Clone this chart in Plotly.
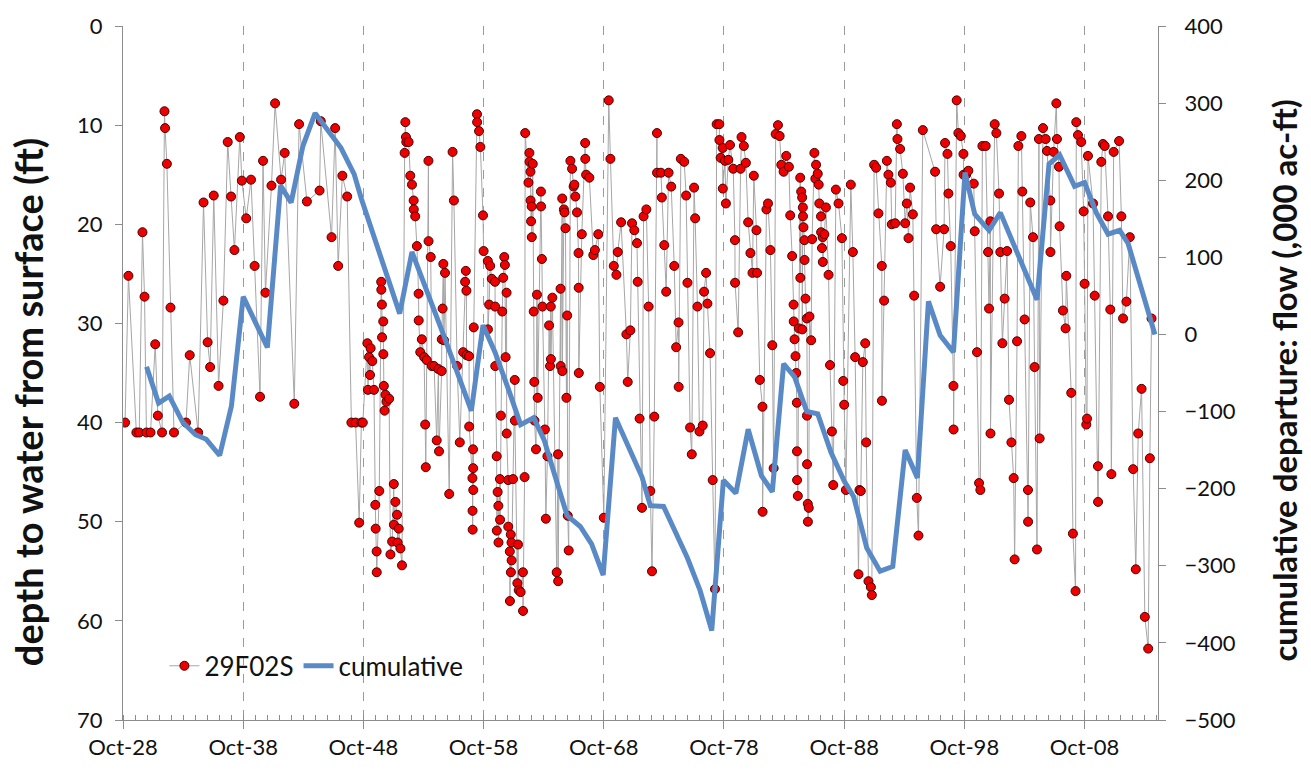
import plotly.graph_objects as go
from datetime import datetime

# ---------------- data ----------------
# well 29F02S : decimal year of measurement and depth to water (ft)
well_year = [
    1928.92, 1929.2, 1929.86, 1930.1, 1930.37, 1930.54, 1930.7, 1931.04, 1931.43, 1931.65,
    1932.0, 1932.2, 1932.25, 1932.4, 1932.7, 1932.99, 1933.99, 1934.3, 1935.0, 1935.45,
    1935.79, 1936.0, 1936.3, 1936.7, 1937.1, 1937.46, 1937.74, 1938.02, 1938.47, 1938.64,
    1939.0, 1939.4, 1939.7, 1940.15, 1940.4, 1940.6, 1941.1, 1941.4, 1941.9, 1942.2,
    1943.0, 1943.4, 1944.05, 1945.1, 1945.2, 1946.1, 1946.4, 1946.65, 1947.0, 1947.4,
    1947.75, 1948.1, 1948.4, 1948.58, 1948.7,
    1949.08, 1949.13, 1949.22, 1949.3, 1949.35, 1949.49, 1949.63, 1949.74, 1949.77, 1949.85,
    1949.86, 1950.07, 1950.23, 1950.24, 1950.29, 1950.3, 1950.4, 1950.41, 1950.45, 1950.51,
    1950.59, 1950.67, 1950.89, 1951.0, 1951.14, 1951.28, 1951.29, 1951.41, 1951.55, 1951.6,
    1951.69, 1951.83, 1951.96, 1952.18, 1952.24, 1952.29, 1952.32, 1952.51, 1952.65, 1952.79,
    1952.93, 1952.94, 1953.06, 1953.2, 1953.34, 1953.35, 1953.48, 1953.61, 1953.8, 1953.89,
    1953.94, 1954.02, 1954.16, 1954.17, 1954.35, 1954.44, 1954.63, 1954.85, 1954.99, 1955.04,
    1955.26, 1955.27, 1955.34, 1955.4, 1955.45, 1955.54, 1955.89, 1956.17, 1956.28, 1956.55,
    1956.77, 1957.05, 1957.21, 1957.27, 1957.32, 1957.33, 1957.54, 1957.55, 1957.82, 1957.83,
    1957.84, 1957.87, 1957.88, 1957.89, 1957.93, 1958.2, 1958.21, 1958.37, 1958.48, 1958.7,
    1958.75,
    1959.1, 1959.11, 1959.21, 1959.3, 1959.43, 1959.7, 1959.71, 1959.72, 1959.84, 1959.85,
    1959.92, 1959.98, 1959.99, 1960.11, 1960.12, 1960.19, 1960.3, 1960.38, 1960.47, 1960.52,
    1960.58, 1960.66, 1960.67, 1960.79, 1960.8, 1960.93, 1960.94, 1961.01, 1961.02, 1961.07,
    1961.08, 1961.2, 1961.34, 1961.35, 1961.56, 1961.61, 1961.67, 1961.83, 1962.02, 1962.03,
    1962.16, 1962.21, 1962.48, 1962.56, 1962.57, 1962.65, 1962.66, 1962.7, 1962.75, 1962.76,
    1962.84, 1962.92, 1962.97, 1962.98, 1963.11, 1963.19, 1963.25, 1963.52, 1963.53, 1963.6,
    1963.65, 1963.85, 1963.93, 1964.06, 1964.2, 1964.28, 1964.34, 1964.35, 1964.47, 1964.83,
    1964.94, 1964.95, 1965.15, 1965.16, 1965.29, 1965.3, 1965.43, 1965.48, 1965.56, 1965.64,
    1965.7, 1965.75, 1965.83, 1965.97, 1966.11, 1966.24, 1966.3, 1966.38, 1966.52, 1966.65,
    1966.66, 1966.67, 1966.92, 1967.2, 1967.21, 1967.28, 1967.55, 1967.88, 1968.01, 1968.29,
    1968.42, 1968.75,
    1969.16, 1969.3, 1969.58, 1969.8, 1969.91, 1970.19, 1970.63, 1970.74, 1970.96, 1971.1,
    1971.29, 1971.51, 1971.57, 1971.73, 1971.93, 1972.06, 1972.29, 1972.48, 1972.62, 1972.76,
    1972.95, 1973.17, 1973.18, 1973.5, 1973.58, 1973.78, 1973.94, 1974.14, 1974.36, 1974.61,
    1974.77, 1974.97, 1974.98, 1975.16, 1975.44, 1975.6, 1975.71, 1975.93, 1976.07, 1976.26,
    1976.35, 1976.54, 1976.71, 1976.98, 1977.09, 1977.26, 1977.37, 1977.59, 1977.81, 1978.0,
    1978.14, 1978.36, 1978.37, 1978.47, 1978.64, 1978.65, 1978.83, 1978.91,
    1979.11, 1979.25, 1979.52, 1979.66, 1979.67, 1979.93, 1980.13, 1980.21, 1980.4, 1980.57,
    1980.76, 1980.95, 1981.12, 1981.23, 1981.45, 1981.5, 1981.73, 1981.95, 1981.96, 1982.28,
    1982.41, 1982.61, 1982.77, 1982.88, 1983.05, 1983.24, 1983.38, 1983.52, 1983.71, 1983.93,
    1984.15, 1984.26, 1984.42, 1984.54, 1984.55, 1984.62, 1984.7, 1984.76, 1984.81, 1984.82,
    1984.83, 1984.89, 1984.98, 1985.09, 1985.1, 1985.17, 1985.25, 1985.26, 1985.31, 1985.32,
    1985.36, 1985.44, 1985.45, 1985.53, 1985.64, 1985.65, 1985.66, 1985.72, 1985.73, 1985.8,
    1985.86, 1986.0, 1986.08, 1986.27, 1986.35, 1986.41, 1986.55, 1986.63, 1986.68, 1986.82,
    1986.83, 1986.9, 1986.96, 1986.97, 1987.1, 1987.23, 1987.45, 1987.57, 1987.73, 1987.84,
    1988.06, 1988.28, 1988.56, 1988.67, 1988.75, 1988.89,
    1989.3, 1989.47, 1989.66, 1989.94, 1990.02, 1990.13, 1990.3, 1990.5, 1990.58, 1990.77,
    1990.97, 1991.05, 1991.24, 1991.41, 1991.6, 1991.88, 1991.89, 1992.07, 1992.3, 1992.43,
    1992.63, 1992.71, 1992.99, 1993.13, 1993.18, 1993.4, 1993.63, 1993.82, 1993.96, 1994.1,
    1994.23, 1994.46, 1994.57, 1994.79, 1994.93, 1995.29, 1996.31, 1996.4, 1996.73, 1997.06,
    1997.14, 1997.34, 1997.42, 1997.61, 1997.84, 1997.85, 1998.11, 1998.25, 1998.45, 1998.67,
    1998.68, 1998.89, 1999.08,
    1999.53, 1999.61, 1999.8, 1999.97, 2000.08, 2000.25, 2000.52, 2000.72, 2000.8, 2000.91,
    2000.92, 2001.27, 2001.41, 2001.63, 2001.74, 2001.91, 2002.1, 2002.3, 2002.46, 2002.66,
    2002.85, 2002.93, 2003.13, 2003.24, 2003.49, 2003.57, 2003.76, 2004.04, 2004.05, 2004.23,
    2004.46, 2004.59, 2004.79, 2004.95, 2005.01, 2005.29, 2005.51, 2005.62, 2005.9, 2005.91,
    2006.17, 2006.4, 2006.45, 2006.62, 2006.67, 2006.95, 2007.17, 2007.23, 2007.64, 2007.78,
    2008.0, 2008.06, 2008.2, 2008.47, 2008.67, 2008.75, 2008.89, 2008.95, 2009.03,
    2009.45, 2009.59, 2009.86, 2009.87, 2010.14, 2010.28, 2010.42, 2010.7, 2010.89, 2010.98,
    2011.17, 2011.62, 2011.81, 2011.95, 2012.23, 2012.51, 2012.79, 2013.01, 2013.21, 2013.49,
    2013.76, 2014.04, 2014.18, 2014.32,
]
well_depth = [
    40.0, 25.2, 41.0, 41.0, 20.8, 27.3, 41.0, 41.0, 32.1, 39.3,
    41.0, 8.6, 10.3, 13.9, 28.4, 41.0, 40.0, 33.2, 41.0, 17.8,
    31.9, 34.4, 17.1, 36.3, 27.7, 11.7, 17.2, 22.6, 11.2, 15.6,
    19.4, 15.5, 24.2, 37.4, 13.6, 26.9, 16.1, 7.8, 15.5, 12.8,
    38.1, 9.9, 17.7, 16.6, 9.6, 21.3, 10.3, 24.2, 15.1, 17.2,
    40.0, 40.0, 50.1, 40.0, 40.0,
    32.0, 36.7, 33.4, 35.2, 32.5, 33.8, 36.7, 48.3, 50.7, 53.0,
    55.1, 46.9, 25.8, 26.6, 28.1, 31.4, 29.8, 33.1, 36.3, 38.8,
    37.2, 37.9, 37.6, 53.3, 52.0, 46.2, 50.3, 48.0, 49.3, 52.1,
    50.7, 52.7, 54.4, 12.8, 9.7, 11.2, 11.7, 11.7, 15.1, 16.0,
    17.6, 18.5, 19.2, 22.2, 27.0, 29.7, 32.9, 31.6, 33.4, 40.2,
    44.5, 33.7, 13.6, 21.7, 23.3, 34.3, 34.3, 41.8, 34.6, 42.9,
    34.8, 31.6, 28.5, 24.0, 31.7, 24.9, 47.2, 12.7, 17.6, 34.3,
    42.0, 32.9, 25.8, 24.7, 26.7, 33.2, 33.3, 40.4, 45.6, 48.9,
    50.8, 42.7, 44.6, 46.8, 30.4, 8.9, 9.7, 10.6, 12.2, 19.1,
    22.7,
    23.7, 30.6, 28.1, 24.2, 25.5, 25.8, 28.3, 34.3, 43.4, 50.9,
    47.0, 48.4, 52.1, 45.7, 49.8, 39.3, 28.8, 25.4, 23.3, 24.1,
    33.4, 26.9, 41.1, 45.8, 50.5, 53.0, 58.0, 51.3, 55.1, 52.1,
    53.9, 45.7, 35.7, 39.8, 56.2, 52.3, 56.9, 57.1, 55.1, 59.0,
    45.5, 10.8, 15.8, 12.8, 13.7, 14.7, 17.6, 19.7, 18.2, 21.3,
    13.9, 28.8, 35.9, 39.8, 42.7, 27.1, 37.5, 16.7, 18.2, 23.5,
    28.3, 40.7, 49.7, 43.4, 30.2, 34.3, 28.3, 33.6, 27.4, 55.1,
    43.2, 56.0, 26.5, 34.3, 17.4, 34.8, 18.5, 18.8, 20.4, 37.5,
    29.2, 49.4, 52.9, 13.6, 14.4, 16.2, 16.0, 17.2, 18.8, 22.9,
    26.4, 35.0, 21.0, 11.8, 13.4, 15.0, 15.3, 23.1, 22.6, 21.0,
    36.4, 49.6,
    7.5, 13.4, 24.2, 25.1, 22.8, 19.8, 31.1, 35.9, 30.7, 19.9,
    20.6, 21.9, 25.8, 39.6, 48.6, 19.2, 18.5, 28.3, 46.9, 55.0,
    39.4, 10.8, 14.8, 14.8, 17.3, 22.1, 26.8, 14.8, 16.2, 24.2,
    32.4, 29.9, 36.4, 13.4, 13.7, 17.1, 25.9, 40.5, 43.2, 16.3,
    19.4, 28.3, 40.9, 40.3, 26.8, 24.9, 28.0, 33.0, 45.8, 56.8,
    9.9, 9.9, 11.5, 13.3, 12.3, 16.4, 13.6, 17.9,
    13.5, 12.0, 14.4, 21.6, 25.9, 30.9, 14.4, 11.2, 12.1, 13.8,
    19.8, 22.9, 24.9, 15.1, 20.6, 24.9, 35.7, 38.4, 49.0, 18.5,
    17.9, 22.6, 32.2, 44.6, 10.9, 10.0, 11.1, 14.0, 14.7, 13.1,
    14.2, 19.1, 23.2, 28.1, 29.8, 31.6, 33.3, 35.0, 38.0, 42.9,
    45.8, 47.4, 30.5, 15.3, 25.4, 16.7, 17.3, 30.6, 18.3, 19.2,
    20.3, 21.6, 23.6, 27.5, 29.5, 39.3, 44.2, 48.2, 50.0, 48.6,
    29.3, 31.7, 21.5, 12.8, 15.4, 14.0, 14.9, 16.0, 17.9, 19.2,
    20.8, 22.4, 21.3, 23.8, 21.0, 18.3, 25.1, 34.2, 40.9, 46.3,
    16.5, 17.9, 21.4, 35.8, 38.2, 46.8,
    16.0, 22.8, 33.4, 55.3, 46.8, 46.9, 33.9, 32.0, 42.0, 56.0,
    56.6, 57.4, 14.0, 14.3, 18.9, 24.2, 37.8, 27.7, 13.6, 15.0,
    15.8, 20.0, 19.9, 9.9, 11.4, 12.4, 14.9, 19.9, 17.9, 21.4,
    16.3, 19.0, 27.2, 47.6, 51.4, 10.5, 14.7, 20.5, 26.3, 20.5,
    11.8, 12.9, 16.9, 22.2, 36.3, 40.7, 7.5, 10.8, 11.1, 12.9,
    15.0, 15.0, 14.6,
    15.9, 20.7, 32.9, 46.1, 46.8, 12.1, 12.1, 22.8, 28.5, 19.7,
    41.1, 9.9, 10.8, 16.9, 22.8, 32.0, 27.5, 22.7, 37.7, 42.0,
    45.6, 53.8, 31.8, 12.1, 11.1, 16.7, 29.6, 46.8, 50.0, 17.8,
    21.3, 34.4, 52.8, 11.4, 41.6, 10.3, 11.4, 12.6, 17.6, 22.8,
    12.7, 7.8, 11.4, 14.2, 20.2, 28.7, 30.5, 25.2, 37.0, 51.2,
    57.0, 9.7, 11.0, 11.7, 18.7, 26.0, 40.2, 39.6, 13.1,
    17.9, 27.2, 44.4, 48.0, 13.7, 11.9, 12.1, 19.2, 28.6, 45.2,
    12.7, 11.6, 19.2, 29.5, 27.8, 21.3, 44.7, 54.8, 41.1, 36.6,
    59.6, 62.8, 43.6, 29.5,
]

# cumulative departure of flow (,000 ac-ft)
cum_year = [
    1930.71, 1931.71, 1932.6, 1933.72, 1934.78, 1935.68, 1936.79, 1937.77, 1938.75, 1940.76,
    1941.86, 1942.74, 1943.71, 1944.73, 1945.77, 1946.88, 1947.98, 1948.6, 1951.77, 1952.79,
    1955.4, 1957.73, 1958.7, 1959.7, 1960.79, 1961.83, 1962.92, 1963.79, 1964.66, 1965.7,
    1966.79, 1967.74, 1968.7, 1969.72, 1971.93, 1972.62, 1973.72, 1975.71, 1976.76, 1977.73,
    1978.7, 1979.74, 1980.76, 1981.86, 1982.77, 1983.71, 1984.62, 1985.64, 1986.55, 1987.65,
    1988.75, 1989.53, 1990.63, 1991.74, 1992.79, 1993.82, 1994.84, 1995.76, 1996.73, 1997.84,
    1998.8, 1999.61, 2000.8, 2001.74, 2004.79, 2005.79, 2006.67, 2007.92, 2008.75, 2009.72,
    2010.7, 2011.67, 2012.37, 2014.6,
]
cum_value = [
    -42, -89, -80, -114, -130, -136, -157, -93, 49, -17,
    193, 171, 244, 287, 265, 242, 208, 175, 27, 107,
    0, -99, 12, -23, -70, -117, -108, -137, -182, -235,
    -249, -272, -312, -108, -185, -222, -223, -290, -332, -384,
    -189, -206, -123, -183, -204, -38, -55, -100, -103, -153,
    -190, -210, -277, -307, -301, -150, -186, 43, -1, -23,
    210, 156, 135, 158, 45, 221, 233, 192, 197, 158,
    130, 135, 118, 0,
]

x_start, x_end = "1928-10-01", "2014-11-10"
left_ticks = list(range(0, 71, 10))
right_ticks = list(range(-500, 401, 100))
left_title = "depth to water from surface (ft)"
right_title = "cumulative departure: flow (,000 ac-ft)"


def to_date(d):
    y = int(d)
    a, b = datetime(y, 1, 1), datetime(y + 1, 1, 1)
    return a + (b - a) * (d - y)


pairs = sorted(zip(well_year, well_depth))
wx = [to_date(p[0]) for p in pairs]
wy = [p[1] for p in pairs]
cx = [to_date(v) for v in cum_year]

FONT = "Lato"
AX = "#8c8c8c"

fig = go.Figure()
fig.add_trace(go.Scatter(
    x=wx, y=wy, name="29F02S", mode="lines+markers",
    line=dict(color="#a6a6a6", width=1),
    marker=dict(color="#ee0000", size=9, line=dict(color="#4a0000", width=1)),
    yaxis="y",
))
fig.add_trace(go.Scatter(
    x=cx, y=cum_value, name="cumulative", mode="lines",
    line=dict(color="#5a8ac6", width=5),
    yaxis="y2",
))

fig.update_layout(
    width=1311, height=772,
    margin=dict(l=123, r=153, t=22, b=49),
    paper_bgcolor="white", plot_bgcolor="white",
    font=dict(family=FONT, size=22, color="#111111"),
    showlegend=True,
    legend=dict(
        orientation="h", x=0.04, y=0.078, xanchor="left", yanchor="middle",
        font=dict(family=FONT, size=26, color="#111111"),
        bgcolor="rgba(0,0,0,0)", itemwidth=30,
    ),
    xaxis=dict(
        type="date", range=[x_start, x_end],
        tick0=x_start, dtick="M120", tickformat="%b-%y",
        ticks="outside", ticklen=8, tickcolor=AX,
        showline=True, linecolor=AX, linewidth=1,
        showgrid=True, gridcolor="#9a9a9a", griddash="dash", gridwidth=1,
        zeroline=False,
        minor=dict(dtick="M12", tick0=x_start, ticks="inside", ticklen=5,
                   tickcolor=AX, showgrid=False),
        tickfont=dict(size=22),
    ),
    yaxis=dict(
        range=[70, 0], tickvals=left_ticks,
        ticks="outside", ticklen=7, tickcolor=AX,
        showline=True, linecolor=AX, linewidth=1,
        showgrid=False, zeroline=False,
        ticklabelstandoff=8,
        tickfont=dict(size=22),
    ),
    yaxis2=dict(
        range=[-500, 400], tickvals=right_ticks,
        overlaying="y", side="right",
        ticks="outside", ticklen=7, tickcolor=AX,
        showline=True, linecolor=AX, linewidth=1,
        showgrid=False, zeroline=False,
        ticklabelstandoff=14,
        tickfont=dict(size=22),
    ),
    annotations=[
        dict(text="<b>%s</b>" % left_title, textangle=-90,
             xref="paper", yref="paper", x=-0.0918, y=0.458,
             xanchor="center", yanchor="middle", showarrow=False,
             font=dict(family=FONT, size=38, color="#111111")),
        dict(text="<b>%s</b>" % right_title, textangle=-90,
             xref="paper", yref="paper", x=1.1217, y=0.489,
             xanchor="center", yanchor="middle", showarrow=False,
             font=dict(family=FONT, size=33, color="#111111")),
    ],
)

fig.write_html("out.html")
